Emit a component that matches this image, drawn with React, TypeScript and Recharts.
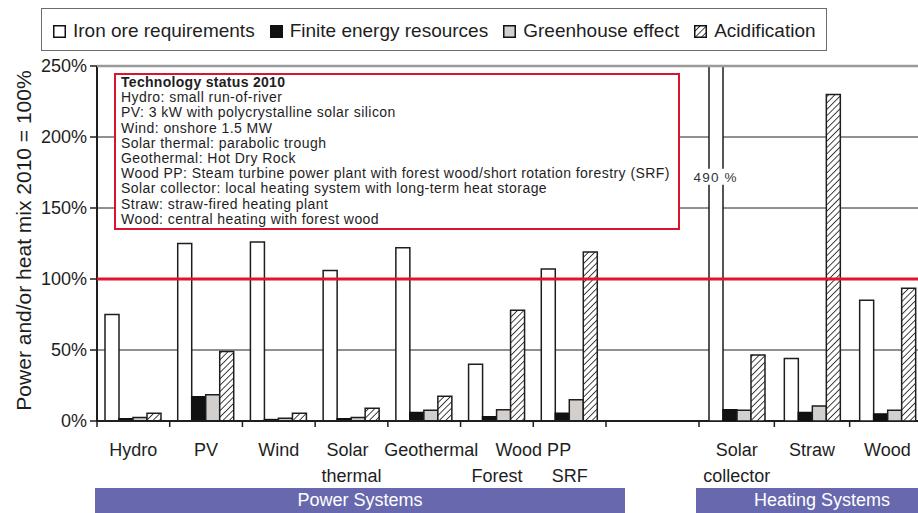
import * as React from "react";
import {
  Bar,
  BarChart,
  CartesianGrid,
  Legend,
  ReferenceDot,
  ReferenceLine,
  XAxis,
  YAxis,
} from "recharts";

// power systems (left group)
const powerSystems = ["Hydro", "PV", "Wind", "Solar thermal", "Geothermal", "Wood PP Forest", "Wood PP SRF"];
const powerLine1 = ["Hydro", "PV", "Wind", "Solar", "Geothermal", "Wood PP", ""];
const powerLine2 = ["", "", "", "thermal", "", "Forest", "SRF"];
const powerIron = [75, 125, 126, 106, 122, 40, 107];
const powerFinite = [1.5, 17, 1, 1.5, 6, 3, 5.5];
const powerGreenhouse = [2.5, 18.5, 2, 2.5, 7.5, 8, 15];
const powerAcid = [5.5, 49, 5.5, 9, 17.5, 78, 119];

// heating systems (right group)
const heatingSystems = ["Solar collector", "Straw", "Wood"];
const heatingLine1 = ["Solar", "Straw", "Wood"];
const heatingLine2 = ["collector", "", ""];
const heatingIron = [490, 44, 85];
const heatingFinite = [8, 6, 5];
const heatingGreenhouse = [7.5, 10.5, 7.5];
const heatingAcid = [46.5, 230, 93.5];

const seriesKeys = ["iron", "finite", "greenhouse", "acid"];
const seriesNames = ["Iron ore requirements", "Finite energy resources", "Greenhouse effect", "Acidification"];

const yTicks = [0, 50, 100, 150, 200, 250];
const mixLevel = 100;

const statusTitle = "Technology status 2010";
const statusLines = [
  "Hydro: small run-of-river",
  "PV: 3 kW with polycrystalline solar silicon",
  "Wind: onshore 1.5 MW",
  "Solar thermal: parabolic trough",
  "Geothermal: Hot Dry Rock",
  "Wood PP: Steam turbine power plant with forest wood/short rotation forestry (SRF)",
  "Solar collector: local heating system with long-term heat storage",
  "Straw: straw-fired heating plant",
  "Wood: central heating with forest wood",
];

const FONT = "'Liberation Sans', Arial, sans-serif";
const BAR = 14;
const INK = "#1e1e1e";
// small horizontal nudges for crowded tick labels
const labelNudge: Record<string, number> = { Solar: -4, Geothermal: 7 };

const powerData = powerSystems.map((name, i) => ({
  name,
  iron: powerIron[i],
  finite: powerFinite[i],
  greenhouse: powerGreenhouse[i],
  acid: powerAcid[i],
}));

const heatingData = heatingSystems.map((name, i) => ({
  name,
  iron: heatingIron[i],
  finite: heatingFinite[i],
  greenhouse: heatingGreenhouse[i],
  acid: heatingAcid[i],
}));

function Hatch({ id }: { id: string }) {
  return (
    <defs>
      <pattern id={id} patternUnits="userSpaceOnUse" width="4.5" height="4.5" patternTransform="rotate(45)">
        <rect width="4.5" height="4.5" fill="#fff" />
        <line x1="0" y1="0" x2="0" y2="4.5" stroke="#222" strokeWidth="1.7" />
      </pattern>
    </defs>
  );
}

function CategoryTick(props: any) {
  const { x, y, payload, index, line1, line2, closeRight, count, spanIndex, nudge } = props;
  const half = payload?.offset ?? 0;
  const txt = { fontSize: 18, fill: INK, fontFamily: FONT, textAnchor: "middle" as const };
  const l1 = line1[index];
  const l2 = line2[index];
  const dx1 = (nudge && nudge[l1]) || 0;
  return (
    <g>
      <line x1={x - half} x2={x - half} y1={y} y2={y + 6} stroke={INK} strokeWidth={1.5} />
      {closeRight && index === count - 1 ? (
        <line x1={x + half} x2={x + half} y1={y} y2={y + 6} stroke={INK} strokeWidth={1.5} />
      ) : null}
      {l1 ? (
        <text x={(index === spanIndex ? x + half : x) + dx1} y={y + 35} {...txt}>
          {l1}
        </text>
      ) : null}
      {l2 ? (
        <text x={x} y={y + 61} {...txt}>
          {l2}
        </text>
      ) : null}
    </g>
  );
}

function Swatch({ kind }: { kind: string }) {
  const fill =
    kind === "iron" ? "#fff" : kind === "finite" ? "#111" : kind === "greenhouse" ? "#d3cfcc" : "url(#hatchLegend)";
  return (
    <svg width={13} height={13} style={{ marginRight: 7, flex: "none" }}>
      <Hatch id="hatchLegend" />
      <rect x={0.75} y={0.75} width={11.5} height={11.5} fill={fill} stroke="#111" strokeWidth={1.5} />
    </svg>
  );
}

function renderLegend(props: any) {
  const items = [...(props.payload || [])].sort(
    (a: any, b: any) => seriesKeys.indexOf(a.dataKey) - seriesKeys.indexOf(b.dataKey)
  );
  return (
    <div
      style={{
        boxSizing: "border-box",
        width: 786,
        height: 43,
        border: "1.5px solid #6b6b6b",
        display: "flex",
        alignItems: "center",
        paddingLeft: 11,
        paddingTop: 3,
        fontFamily: FONT,
        fontSize: 19,
        color: INK,
        background: "#fff",
      }}
    >
      {items.map((it: any) => (
        <div key={it.dataKey} style={{ display: "flex", alignItems: "center", marginRight: 15 }}>
          <Swatch kind={it.dataKey} />
          <span style={{ whiteSpace: "nowrap" }}>{it.value}</span>
        </div>
      ))}
    </div>
  );
}

function bars(hatchId: string) {
  const fills = ["#fff", "#111", "#d3cfcc", `url(#${hatchId})`];
  const strokes = [INK, "#111", INK, INK];
  return seriesKeys.map((k, i) => (
    <Bar
      key={k}
      dataKey={k}
      name={seriesNames[i]}
      fill={fills[i]}
      stroke={strokes[i]}
      strokeWidth={1.5}
      barSize={BAR}
      isAnimationActive={false}
    />
  ));
}

export default function App() {
  const W = 930;
  const H = 513;
  return (
    <div
      style={{
        position: "absolute",
        left: 0,
        top: 0,
        width: 918,
        height: 513,
        overflow: "hidden",
        background: "#fff",
        fontFamily: FONT,
      }}
    >
      <div style={{ position: "absolute", left: 0, top: 0 }}>
        <BarChart width={W} height={H} data={powerData} barGap={0} margin={{ top: 66, right: 5, bottom: 0, left: 0 }}>
          <Hatch id="hatchP" />
          <CartesianGrid vertical={false} stroke="#222" strokeWidth={1} />
          <XAxis
            dataKey="name"
            interval={0}
            height={92}
            tickSize={0}
            tickMargin={0}
            padding={{ left: 0, right: 319 }}
            axisLine={{ stroke: INK, strokeWidth: 2 }}
            tick={
              <CategoryTick
                line1={powerLine1}
                line2={powerLine2}
                closeRight
                count={powerSystems.length}
                spanIndex={5}
                nudge={labelNudge}
              />
            }
          />
          <YAxis
            width={97}
            domain={[0, 250]}
            ticks={yTicks}
            allowDataOverflow
            tickFormatter={(v: number) => `${v}%`}
            tick={{ fontSize: 18, fill: INK, fontFamily: FONT }}
            tickSize={7}
            tickMargin={3}
            axisLine={{ stroke: INK, strokeWidth: 2 }}
            tickLine={{ stroke: INK, strokeWidth: 1.5 }}
            label={{
              value: "Power and/or heat mix 2010 = 100%",
              angle: -90,
              position: "insideLeft",
              offset: 24,
              dy: -3,
              fontSize: 21,
              fill: INK,
              fontFamily: FONT,
              style: { textAnchor: "middle" },
            }}
          />
          <Legend
            layout="horizontal"
            verticalAlign="middle"
            align="center"
            wrapperStyle={{ top: 8, left: 41, width: 786, height: 43 }}
            content={renderLegend}
          />
          {bars("hatchP")}
        </BarChart>
      </div>

      <div style={{ position: "absolute", left: 0, top: 0 }}>
        <BarChart width={W} height={H} data={heatingData} barGap={0} margin={{ top: 66, right: 5, bottom: 0, left: 97 }}>
          <Hatch id="hatchH" />
          <XAxis
            dataKey="name"
            interval={0}
            height={92}
            tickSize={0}
            tickMargin={0}
            padding={{ left: 602, right: 0 }}
            axisLine={false}
            tick={
              <CategoryTick
                line1={heatingLine1}
                line2={heatingLine2}
                closeRight={false}
                count={heatingSystems.length}
                spanIndex={-1}
              />
            }
          />
          <YAxis hide domain={[0, 250]} ticks={yTicks} allowDataOverflow />
          {bars("hatchH")}
          <ReferenceLine y={250} stroke="#9a9a9a" strokeWidth={2.5} />
          <ReferenceLine y={mixLevel} stroke="#e3122d" strokeWidth={3} />
          <ReferenceDot
            x={heatingSystems[0]}
            y={172}
            r={0}
            fill="none"
            stroke="none"
            label={(p: any) => {
              const vb = p.viewBox || { x: 0, y: 0 };
              const cx = vb.x - 1.5 * BAR;
              return (
                <g>
                  <rect x={cx - 24} y={vb.y - 8} width={48} height={16} fill="#fff" />
                  <text
                    x={cx}
                    y={vb.y + 5}
                    textAnchor="middle"
                    fontSize={13.5}
                    letterSpacing={1.2}
                    fill="#333"
                    fontFamily={FONT}
                  >
                    {`${heatingIron[0]} %`}
                  </text>
                </g>
              );
            }}
          />
        </BarChart>
      </div>

      <div
        style={{
          position: "absolute",
          left: 114,
          top: 73,
          width: 566,
          height: 157,
          boxSizing: "border-box",
          border: "2px solid #d8142e",
          background: "#fff",
          paddingLeft: 5,
          fontSize: 14,
          lineHeight: "15.2px",
          letterSpacing: 0.45,
          color: INK,
          whiteSpace: "nowrap",
        }}
      >
        <div style={{ fontWeight: "bold", letterSpacing: 0.3 }}>{statusTitle}</div>
        {statusLines.map((t) => (
          <div key={t}>{t}</div>
        ))}
      </div>

      <div
        style={{
          position: "absolute",
          left: 95,
          top: 488,
          width: 530,
          height: 25,
          background: "#6868ae",
          color: "#fff",
          fontSize: 18,
          lineHeight: "25px",
          textAlign: "center",
        }}
      >
        Power Systems
      </div>
      <div
        style={{
          position: "absolute",
          left: 696,
          top: 488,
          width: 252,
          height: 25,
          background: "#6868ae",
          color: "#fff",
          fontSize: 18,
          lineHeight: "25px",
          textAlign: "center",
        }}
      >
        Heating Systems
      </div>
    </div>
  );
}
